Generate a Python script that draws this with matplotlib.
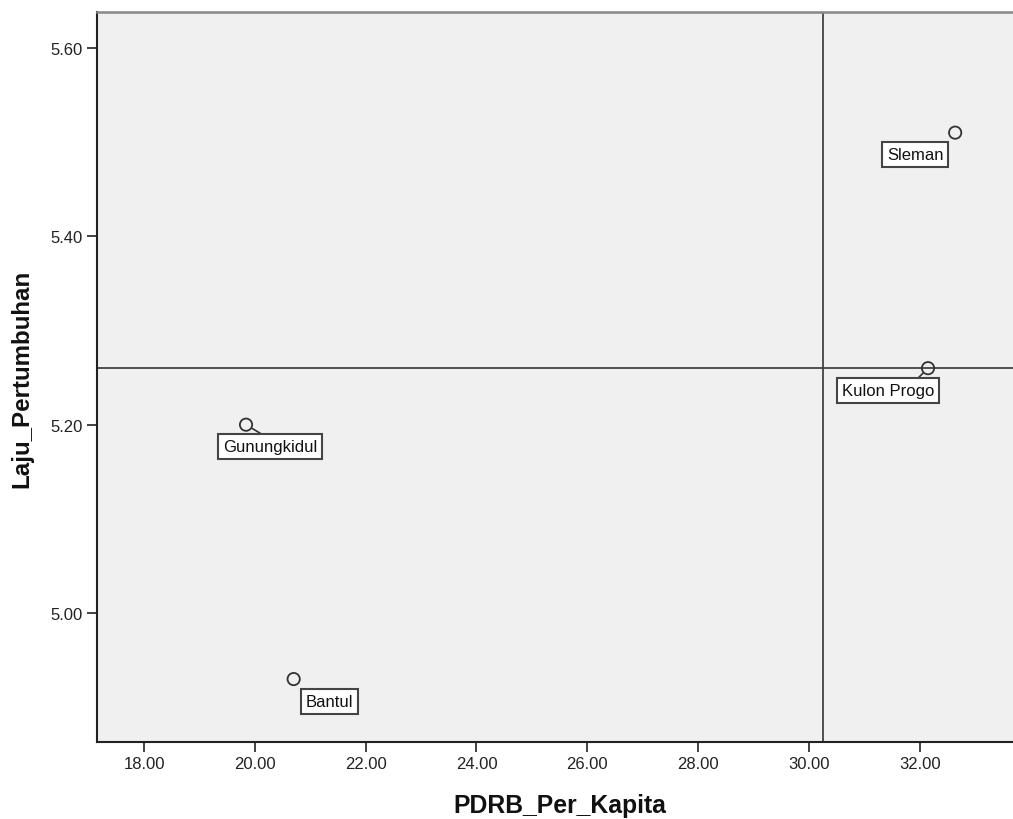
import matplotlib
matplotlib.use("Agg")
import matplotlib.pyplot as plt

# ---- data ----
regions = ["Sleman", "Kulon Progo", "Gunungkidul", "Bantul"]
pdrb_per_kapita = [32.64, 32.15, 19.84, 20.70]
laju_pertumbuhan = [5.51, 5.26, 5.20, 4.93]
ref_x = 30.26   # vertical reference line
ref_y = 5.26    # horizontal reference line
x_ticks = [18, 20, 22, 24, 26, 28, 30, 32]
y_ticks = [5.00, 5.20, 5.40, 5.60]
x_title = "PDRB_Per_Kapita"
y_title = "Laju_Pertumbuhan"

# ---- layout (label offsets in pixels, leader-line attach point) ----
label_offsets = {"Sleman": (-40, -22), "Kulon Progo": (-40, -22.5),
                 "Gunungkidul": (24, -22), "Bantul": (36, -22)}
leader_relpos = {"Kulon Progo": (0.77, 1.0), "Gunungkidul": (0.5, 1.0)}

plt.rcParams["font.family"] = ["Liberation Sans", "DejaVu Sans"]

fig = plt.figure(figsize=(10.13, 8.20), dpi=100)
fig.patch.set_facecolor("white")
ax = fig.add_axes([97 / 1013, 77 / 820, 916 / 1013, 730.5 / 820])
ax.set_facecolor("#F0F0F0")

ax.set_xlim(17.150, 33.684)
ax.set_ylim(4.8632, 5.6386)

ax.axvline(ref_x, color="#444444", lw=1.3, zorder=2)
ax.axhline(ref_y, color="#444444", lw=1.3, zorder=2)

ax.scatter(pdrb_per_kapita, laju_pertumbuhan, s=78, facecolors="none",
           edgecolors="#333333", linewidths=1.3, zorder=4)

for name, xv, yv in zip(regions, pdrb_per_kapita, laju_pertumbuhan):
    arrow = None
    if name in leader_relpos:
        arrow = dict(arrowstyle="-", color="#333333", lw=1.2,
                     shrinkA=0, shrinkB=5, relpos=leader_relpos[name])
    ax.annotate(name, xy=(xv, yv), xytext=label_offsets[name],
                textcoords="offset pixels", ha="center", va="center",
                fontsize=12, color="#111111", zorder=5,
                bbox=dict(boxstyle="square,pad=0.3", fc="white",
                          ec="#444444", lw=1.5),
                arrowprops=arrow)

ax.set_xticks(x_ticks)
ax.set_xticklabels([f"{v:.2f}" for v in x_ticks])
ax.set_yticks(y_ticks)
ax.set_yticklabels([f"{v:.2f}" for v in y_ticks])
ax.tick_params(axis="both", direction="out", length=7, width=1.3,
               color="#333333", labelsize=12, labelcolor="#222222", pad=3)

for side in ["left", "bottom"]:
    ax.spines[side].set_color("#222222")
    ax.spines[side].set_linewidth(1.5)
ax.spines["top"].set_color("#888888")
ax.spines["top"].set_linewidth(1.8)
ax.spines["right"].set_visible(False)

ax.set_xlabel(x_title, fontsize=17.8, fontweight="bold", color="#111111")
ax.set_ylabel(y_title, fontsize=17.4, fontweight="bold", color="#111111")
ax.xaxis.set_label_coords((560 - 97) / 916, (743 - 806) / 730.5)
ax.xaxis.label.set_va("center")
ax.yaxis.set_label_coords((22 - 97) / 916, (743 - 379) / 730.5)
ax.yaxis.label.set_va("center")

fig.savefig("out.png", dpi=100, facecolor="white")
